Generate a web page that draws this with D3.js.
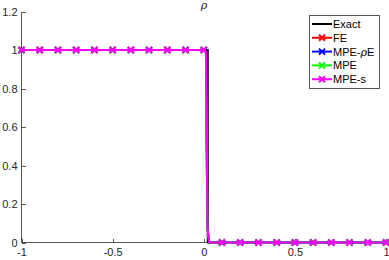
<!DOCTYPE html>
<html lang="en">
<head>
<meta charset="utf-8">
<title>rho</title>
<style>
  body { margin: 0; background: white; }
  svg { display: block; font-family: "Liberation Sans", Arial, sans-serif; }
  .axis path, .axis line { stroke: #555; shape-rendering: crispEdges; }
  .axis text { fill: #262626; font-size: 11px; }
</style>
</head>
<body>
<script src="https://cdnjs.cloudflare.com/ajax/libs/d3/7.8.5/d3.min.js"></script>
<script>
// data
var exactX = [-1, 0.022, 0.022, 1];
var exactY = [1, 1, 0, 0];

// numerical solution (all four schemes coincide at this scale)
var numX = [-1, -0.9, -0.8, -0.7, -0.6, -0.5, -0.4, -0.3, -0.2, -0.1, 0, 0.012, 0.02, 0.03, 0.1, 0.2, 0.3, 0.4, 0.5, 0.6, 0.7, 0.8, 0.9, 1];
var numY = [1, 1, 1, 1, 1, 1, 1, 1, 1, 1, 1, 0.99, 0.08, 0, 0, 0, 0, 0, 0, 0, 0, 0, 0, 0];
var markX = [-1, -0.9, -0.8, -0.7, -0.6, -0.5, -0.4, -0.3, -0.2, -0.1, 0, 0.1, 0.2, 0.3, 0.4, 0.5, 0.6, 0.7, 0.8, 0.9, 1];
var markY = [1, 1, 1, 1, 1, 1, 1, 1, 1, 1, 1, 0, 0, 0, 0, 0, 0, 0, 0, 0, 0];

var series = ["FE", "MPE-\u03c1E", "MPE", "MPE-s"];
var colors = ["#ff0000", "#0000ff", "#00ff00", "#ff00ff"];

var xTicks = [-1, -0.5, 0, 0.5, 1];
var yTicks = [0, 0.2, 0.4, 0.6, 0.8, 1, 1.2];

var W = 389, H = 260;
var svg = d3.select("body").append("svg").attr("width", W).attr("height", H);

var x = d3.scaleLinear().domain([-1, 1]).range([21.5, 386]);
var y = d3.scaleLinear().domain([0, 1.2]).range([242.5, 11.5]);

function fmt(d) { return String(d); }

var xAxis = d3.axisBottom(x).tickValues(xTicks).tickSize(-4).tickPadding(6).tickFormat(fmt);
var yAxis = d3.axisLeft(y).tickValues(yTicks).tickSize(-4).tickPadding(4).tickFormat(fmt);

svg.append("g").attr("class", "axis")
  .attr("transform", "translate(0," + y(0) + ")")
  .call(xAxis)
  .call(function(g) { g.select(".domain").attr("d", "M" + x(-1) + ",0H" + W); });

svg.append("g").attr("class", "axis")
  .attr("transform", "translate(" + x(-1) + ",0)")
  .call(yAxis)
  .call(function(g) { g.select(".domain").attr("d", "M0," + y(1.2) + "V" + y(0)); });

var line = d3.line()
  .x(function(d) { return x(d[0]); })
  .y(function(d) { return y(d[1]); });

// exact
svg.append("path")
  .datum(d3.zip(exactX, exactY))
  .attr("d", line)
  .attr("fill", "none")
  .attr("stroke", "black")
  .attr("stroke-width", 2);

function cross(g, cx, cy, col, s) {
  g.append("path")
    .attr("d", "M" + (cx - s) + "," + (cy - s) + "L" + (cx + s) + "," + (cy + s) +
               "M" + (cx - s) + "," + (cy + s) + "L" + (cx + s) + "," + (cy - s))
    .attr("stroke", col).attr("stroke-width", 2).attr("fill", "none");
}

series.forEach(function(name, i) {
  var g = svg.append("g");
  g.append("path")
    .datum(d3.zip(numX, numY))
    .attr("d", line)
    .attr("fill", "none")
    .attr("stroke", colors[i])
    .attr("stroke-width", 2);
  markX.forEach(function(mx, j) {
    cross(g, x(mx), y(markY[j]), colors[i], 3);
  });
});

// title
svg.append("text")
  .attr("x", 204).attr("y", 9)
  .attr("text-anchor", "middle")
  .style("font-family", "'DejaVu Serif', serif")
  .style("font-style", "italic")
  .style("font-size", "11px")
  .attr("fill", "#262626")
  .text("\u03c1");

// legend
var leg = svg.append("g");
leg.append("rect")
  .attr("x", 309.5).attr("y", 15.5).attr("width", 70).attr("height", 73)
  .attr("fill", "white").attr("stroke", "#555").attr("stroke-width", 1);

var legNames = ["Exact"].concat(series);
var legColors = ["black"].concat(colors);
legNames.forEach(function(name, i) {
  var ly = 24 + i * 13.8;
  leg.append("line")
    .attr("x1", 312).attr("x2", 332).attr("y1", ly).attr("y2", ly)
    .attr("stroke", legColors[i]).attr("stroke-width", 2);
  if (i > 0) cross(leg, 322, ly, legColors[i], 3);
  var t = leg.append("text")
    .attr("x", 333).attr("y", ly + 4)
    .style("font-size", "11px")
    .attr("fill", "black");
  if (name.indexOf("\u03c1") >= 0) {
    t.append("tspan").text("MPE-");
    t.append("tspan").style("font-style", "italic").style("font-family", "'DejaVu Serif', serif").text("\u03c1");
    t.append("tspan").text("E");
  } else {
    t.text(name);
  }
});
</script>
</body>
</html>
